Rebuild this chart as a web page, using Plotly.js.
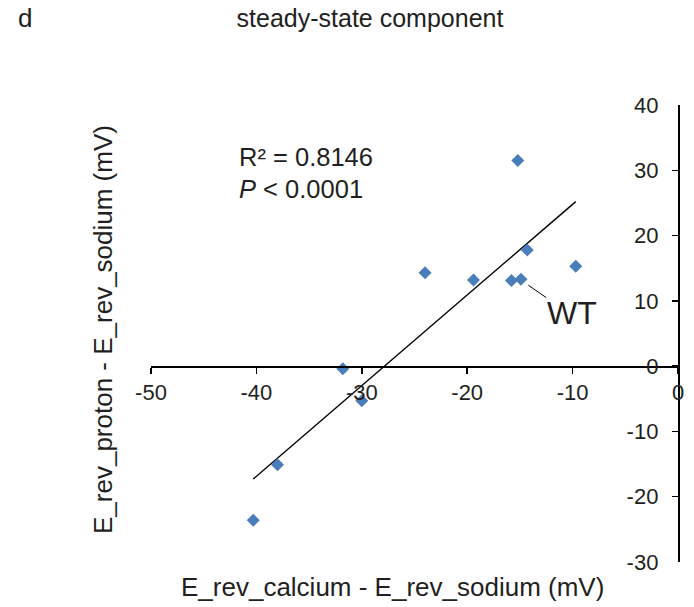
<!DOCTYPE html>
<html>
<head>
<meta charset="utf-8">
<script src="https://cdn.plot.ly/plotly-3.0.1.min.js"></script>
<style>html,body{margin:0;padding:0;background:#fff;}#chart{width:694px;height:607px;}</style>
</head>
<body>
<div id="chart"></div>
<script>
// Data
const caDiff = [-15.2, -24.0, -19.4, -15.8, -14.9, -14.3, -9.7, -31.8, -30.0, -38.0, -40.3];
const protonDiff = [31.5, 14.3, 13.2, 13.1, 13.3, 17.8, 15.3, -0.4, -5.3, -15.1, -23.6];
const trendX = [-40.3, -9.7];
const trendY = [-17.3, 25.2];
const xTicks = [-50, -40, -30, -20, -10, 0];
const yTicks = [-30, -20, -10, 0, 10, 20, 30, 40];
const wtLeaderX = [-14.2, -12.5];
const wtLeaderY = [12.4, 10.5];

const FONT = '"Liberation Sans", Arial, Helvetica, sans-serif';
const TXT = '#231f20';
const L = 151, R = 16, T = 105, B = 45, W = 694, H = 607;
const pw = W - L - R, ph = H - T - B;
const px = v => (v - L) / pw;
const py = v => (H - B - v) / ph;

const traces = [
  {
    x: trendX, y: trendY, type: 'scatter', mode: 'lines',
    line: {color: '#000', width: 1.4}, hoverinfo: 'skip', showlegend: false
  },
  {
    x: caDiff, y: protonDiff, type: 'scatter', mode: 'markers',
    marker: {symbol: 'diamond', size: 10, color: '#4a7ebb'}, showlegend: false
  }
];

const layout = {
  width: W, height: H,
  margin: {l: L, r: R, t: T, b: B},
  paper_bgcolor: '#fff', plot_bgcolor: '#fff',
  font: {family: FONT, color: TXT},
  showlegend: false,
  title: {
    text: 'steady-state component',
    font: {size: 25, family: FONT, color: TXT},
    x: 370 / W, xanchor: 'center', xref: 'container',
    y: 1 - 18 / H, yanchor: 'middle', yref: 'container'
  },
  xaxis: {
    range: [-50, 0], anchor: 'free', position: 30 / 70,
    tickvals: xTicks, ticktext: xTicks.map(String),
    showgrid: false, zeroline: false, showline: true,
    linecolor: '#000', linewidth: 1.5,
    ticks: 'outside', ticklen: 6, tickwidth: 1.5, tickcolor: '#000',
    tickfont: {size: 22, family: FONT, color: TXT}
  },
  yaxis: {
    range: [-30, 40], side: 'right',
    tickvals: yTicks, ticktext: yTicks.map(String),
    showgrid: false, zeroline: false, showline: true,
    linecolor: '#000', linewidth: 1.5,
    ticks: 'inside', ticklen: 6, tickwidth: 1.5, tickcolor: '#000',
    ticklabelposition: 'inside', ticklabeloverflow: 'allow', ticklabelstandoff: 15,
    tickfont: {size: 22, family: FONT, color: TXT}
  },
  shapes: [
    {type: 'line', xref: 'x', yref: 'y', x0: wtLeaderX[0], y0: wtLeaderY[0], x1: wtLeaderX[1], y1: wtLeaderY[1],
     line: {color: '#000', width: 1}}
  ],
  annotations: [
    {text: 'd', xref: 'paper', yref: 'paper', x: px(25), y: py(18), xanchor: 'center', yanchor: 'middle',
     showarrow: false, font: {size: 26, family: FONT, color: TXT}},
    {text: 'R² = 0.8146', xref: 'paper', yref: 'paper', x: px(237), y: py(157), xanchor: 'left', yanchor: 'middle',
     showarrow: false, font: {size: 25.5, family: FONT, color: TXT}},
    {text: '<i>P</i> < 0.0001', xref: 'paper', yref: 'paper', x: px(237), y: py(189), xanchor: 'left', yanchor: 'middle',
     showarrow: false, font: {size: 25.5, family: FONT, color: TXT}},
    {text: 'WT', xref: 'paper', yref: 'paper', x: px(572), y: py(313), xanchor: 'center', yanchor: 'middle',
     showarrow: false, font: {size: 32, family: FONT, color: TXT}},
    {text: 'E_rev_calcium - E_rev_sodium (mV)', xref: 'paper', yref: 'paper', x: px(392), y: py(587),
     xanchor: 'center', yanchor: 'middle', showarrow: false, font: {size: 26, family: FONT, color: TXT}},
    {text: 'E_rev_proton - E_rev_sodium (mV)', xref: 'paper', yref: 'paper', x: px(103), y: py(330),
     xanchor: 'center', yanchor: 'middle', textangle: -90, showarrow: false, font: {size: 26, family: FONT, color: TXT}}
  ]
};

Plotly.newPlot('chart', traces, layout, {displayModeBar: false, staticPlot: true});
</script>
</body>
</html>
